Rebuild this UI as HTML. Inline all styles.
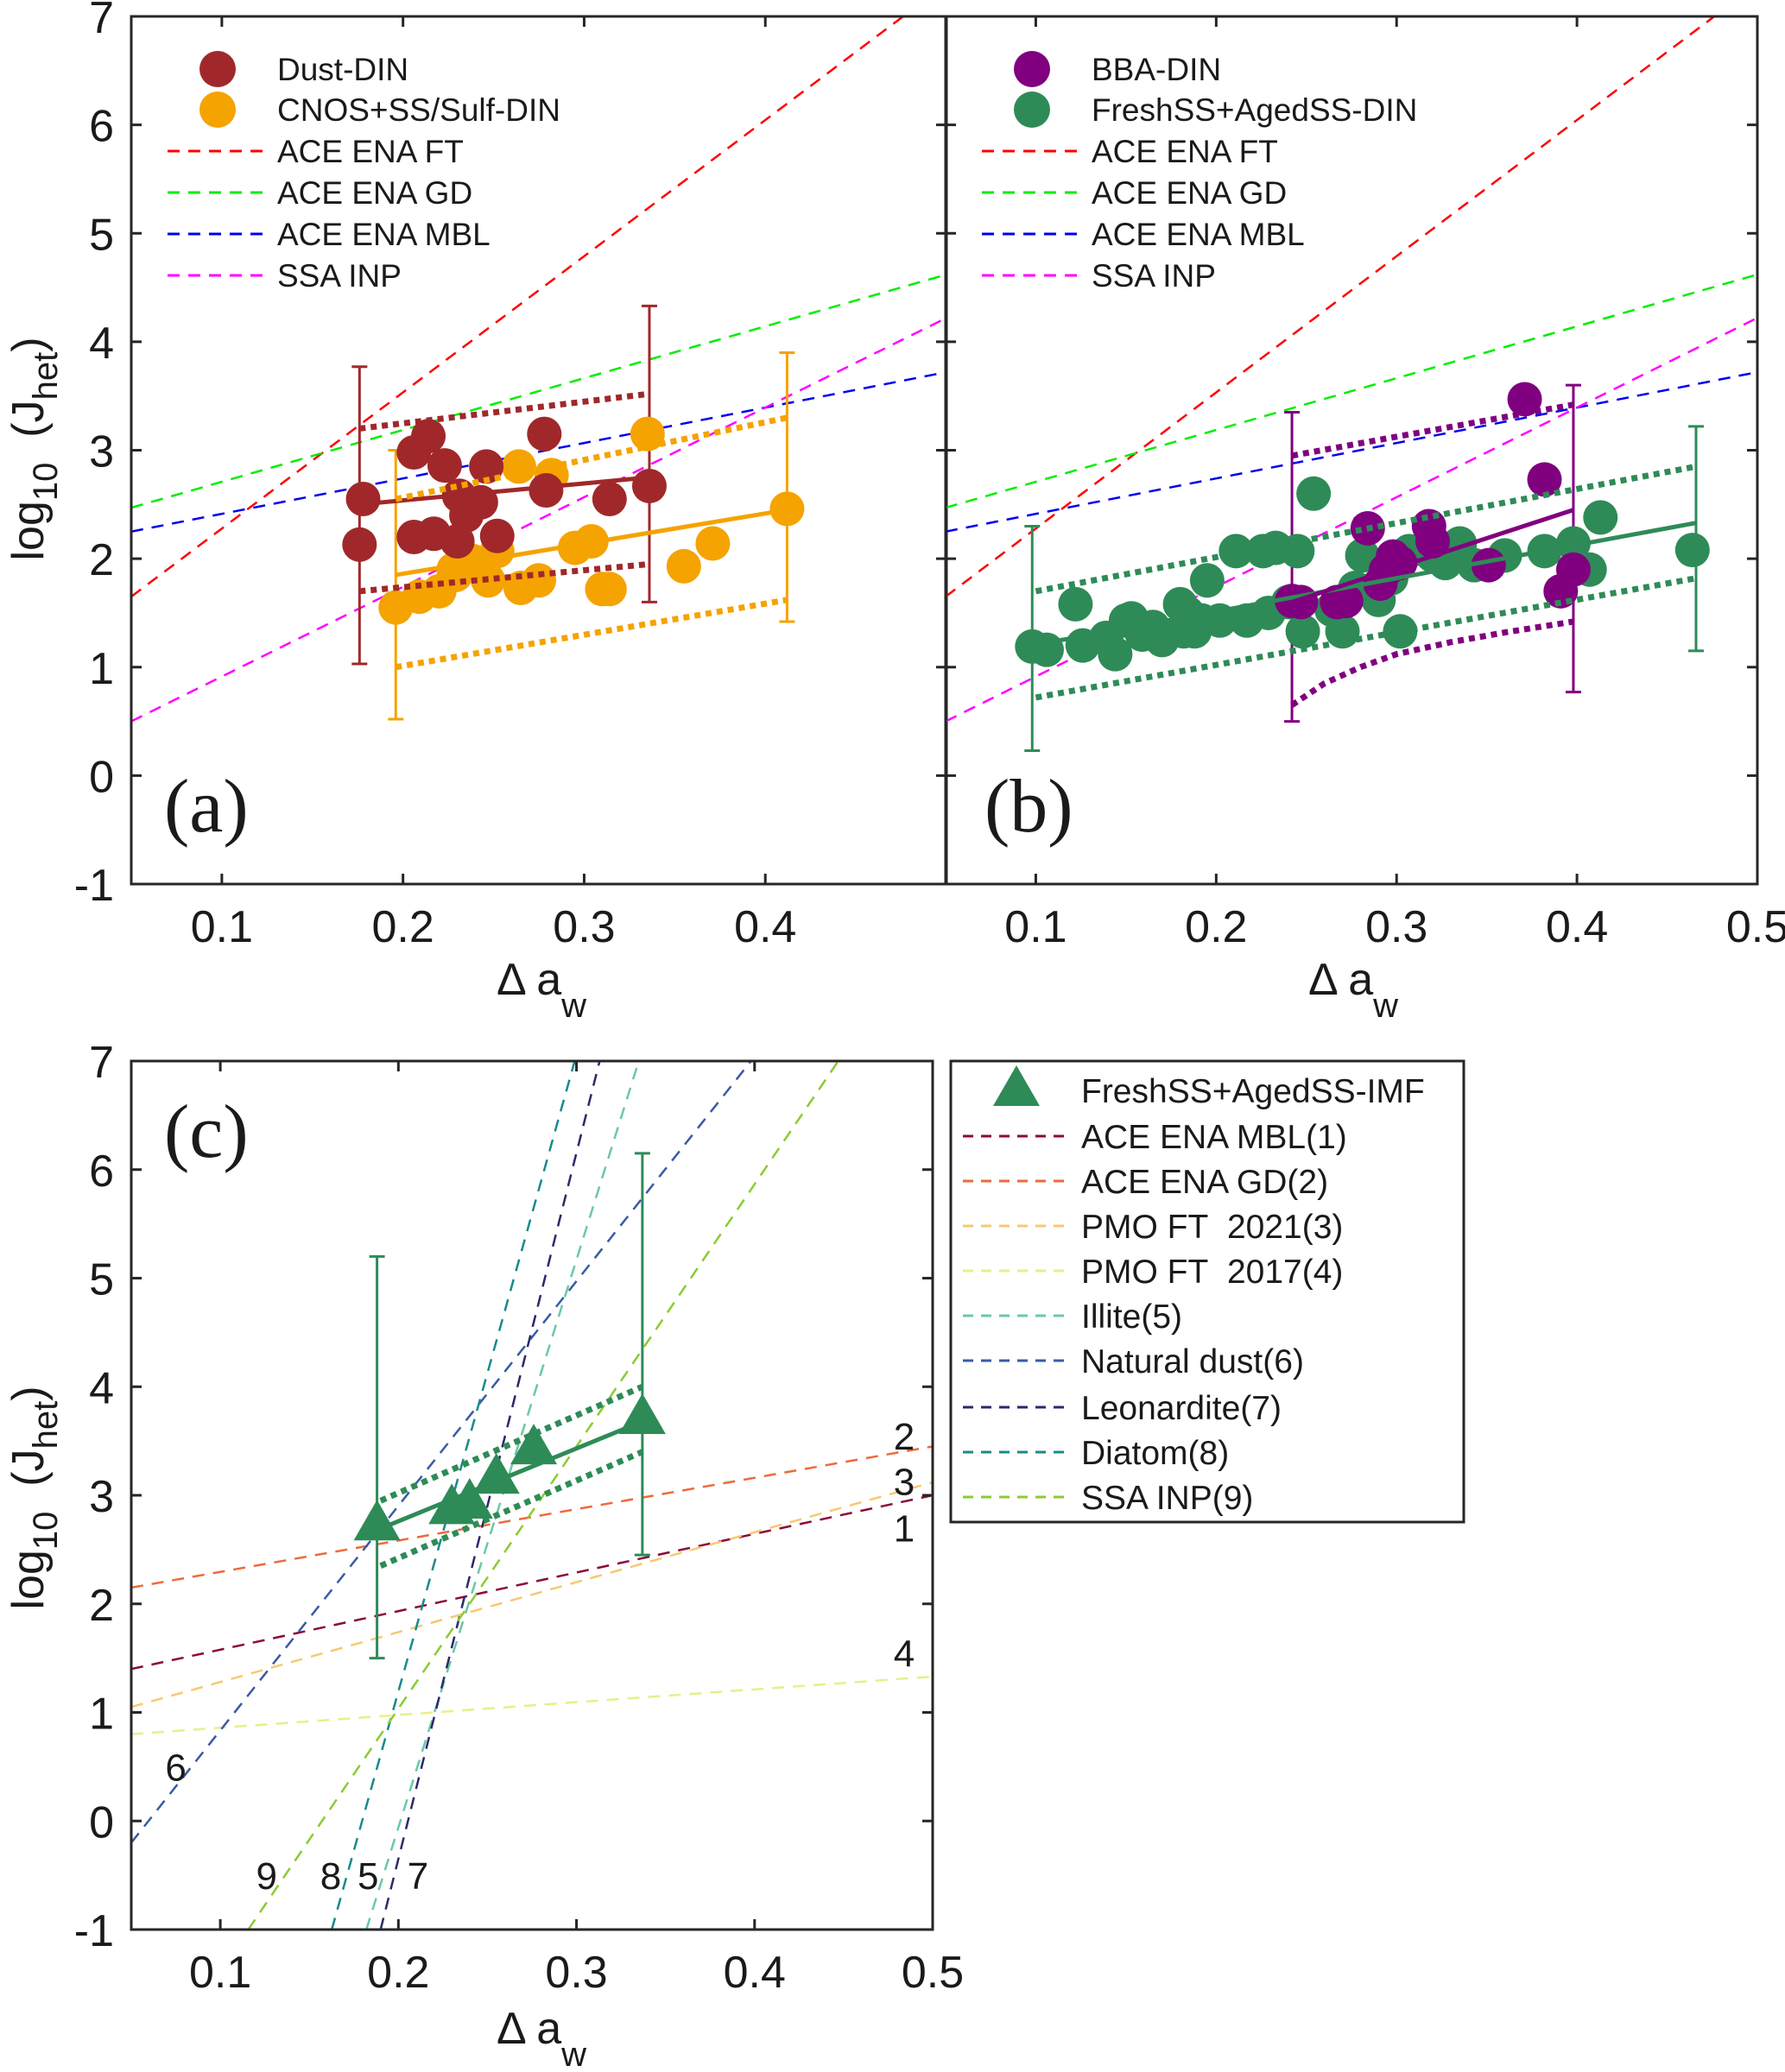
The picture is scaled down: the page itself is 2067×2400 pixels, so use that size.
<!DOCTYPE html>
<html><head><meta charset="utf-8"><style>
html,body{margin:0;padding:0;background:#fff;}
svg text{font-family:"Liberation Sans",Arial,Helvetica,sans-serif;fill:#1a1a1a;}
</style></head><body>
<svg id="fig" xmlns="http://www.w3.org/2000/svg" width="2067" height="2395" viewBox="0 0 2067 2395" font-family="Liberation Sans, Arial, sans-serif"></svg>
<script>
// ---------- data ----------
const yTicks = [-1,0,1,2,3,4,5,6,7];
const xTicksAB = [0.1,0.2,0.3,0.4];
const xTicksB = [0.1,0.2,0.3,0.4,0.5];
const xTicksC = [0.1,0.2,0.3,0.4,0.5];
const refNames = ["ACE ENA FT","ACE ENA GD","ACE ENA MBL","SSA INP"];
const refColors = ["#ff0000","#00ee00","#0000ee","#ff00ff"];
const refStart = [1.65,2.47,2.25,0.5];
const refEnd = [7.3,4.62,3.72,4.22];
// Panel a
const dustX = [0.176,0.178,0.206,0.214,0.223,0.206,0.217,0.230,0.231,0.235,0.243,0.246,0.252,0.278,0.279,0.314,0.336];
const dustY = [2.13,2.55,2.98,3.13,2.86,2.20,2.23,2.16,2.58,2.40,2.52,2.85,2.21,3.15,2.63,2.55,2.67];
const cnosX = [0.196,0.209,0.220,0.229,0.238,0.247,0.252,0.265,0.275,0.282,0.264,0.295,0.304,0.310,0.314,0.335,0.355,0.371,0.412,0.228];
const cnosY = [1.55,1.65,1.70,1.85,1.98,1.80,2.07,1.73,1.80,2.77,2.85,2.10,2.16,1.72,1.72,3.15,1.93,2.14,2.46,1.90];
const dustFit = [0.176,2.50,0.336,2.75], dustUp=[0.176,3.20,0.336,3.52], dustLo=[0.176,1.70,0.336,1.95];
const dustErrX=[0.176,0.336], dustErrLo=[1.03,1.60], dustErrHi=[3.77,4.33];
const cnosFit = [0.196,1.85,0.412,2.45], cnosUp=[0.196,2.55,0.412,3.30], cnosLo=[0.196,1.00,0.412,1.62];
const cnosErrX=[0.196,0.412], cnosErrLo=[0.52,1.42], cnosErrHi=[3.00,3.90];
// Panel b
const ssX = [0.098,0.106,0.122,0.126,0.139,0.144,0.150,0.153,0.159,0.165,0.170,0.180,0.182,0.184,0.188,0.192,0.195,0.202,0.211,0.217,0.226,0.229,0.233,0.240,0.245,0.248,0.254,0.264,0.270,0.277,0.281,0.290,0.297,0.302,0.307,0.320,0.327,0.335,0.343,0.360,0.382,0.398,0.407,0.413,0.464];
const ssY = [1.19,1.16,1.58,1.20,1.27,1.12,1.43,1.45,1.30,1.37,1.25,1.58,1.33,1.50,1.33,1.43,1.80,1.43,2.07,1.43,2.07,1.50,2.10,1.60,2.07,1.33,2.60,1.53,1.33,1.73,2.03,1.62,1.82,1.33,2.07,2.03,1.96,2.14,1.94,2.03,2.07,2.14,1.90,2.38,2.08];
const bbaX = [0.242,0.247,0.267,0.272,0.284,0.291,0.294,0.298,0.302,0.318,0.320,0.351,0.371,0.382,0.391,0.398];
const bbaY = [1.61,1.60,1.60,1.61,2.28,1.77,1.89,2.02,1.96,2.30,2.16,1.94,3.47,2.73,1.70,1.90];
const ssFit=[0.098,1.20,0.466,2.33], ssUp=[0.100,1.70,0.466,2.85], ssLo=[0.100,0.72,0.466,1.82];
const ssErrX=[0.098,0.466], ssErrLo=[0.23,1.15], ssErrHi=[2.30,3.22];
const bbaFit=[0.242,1.60,0.398,2.45], bbaUp=[0.242,2.95,0.398,3.42];
const bbaLoX=[0.242,0.26,0.28,0.30,0.33,0.36,0.398], bbaLoY=[0.65,0.85,1.0,1.12,1.23,1.32,1.42];
const bbaErrX=[0.242,0.398], bbaErrLo=[0.50,0.77], bbaErrHi=[3.35,3.60];
// Panel c
const imfX=[0.188,0.230,0.240,0.255,0.276,0.337];
const imfY=[2.72,2.87,2.92,3.15,3.42,3.70];
const imfFit=[0.188,2.68,0.337,3.68], imfUp=[0.190,2.95,0.337,4.00], imfLo=[0.190,2.35,0.337,3.40];
const imfErrX=[0.188,0.337], imfErrLo=[1.50,2.45], imfErrHi=[5.20,6.15];
const cNames=["ACE ENA MBL(1)","ACE ENA GD(2)","PMO FT\u00a0\u00a02021(3)","PMO FT\u00a0\u00a02017(4)","Illite(5)","Natural dust(6)","Leonardite(7)","Diatom(8)","SSA INP(9)"];
const cColors=["#8b0a3a","#ee6a3a","#f8c870","#e6f08a","#6ac8a8","#3a5aa8","#2a2a6a","#1a8a8a","#8acc30"];
const cLines=[[0.05,1.40,0.5,3.00],[0.05,2.15,0.5,3.45],[0.05,1.05,0.5,3.12],[0.05,0.80,0.5,1.33],
 [0.182,-1,0.335,7],[0.05,-0.2,0.398,7],[0.190,-1,0.313,7],[0.1626,-1,0.299,7],[0.1157,-1,0.447,7]];
const cLabelTxt=["1","2","3","4","5","6","7","8","9"];
const cLabelX=[0.484,0.484,0.484,0.484,0.183,0.075,0.211,0.162,0.126];
const cLabelY=[2.7,3.55,3.13,1.55,-0.5,0.5,-0.5,-0.5,-0.5];

// ---------- drawing ----------
const NS="http://www.w3.org/2000/svg";
const svg=document.getElementById('fig');
function el(tag,attrs,parent){const e=document.createElementNS(NS,tag);for(const k in attrs)e.setAttribute(k,attrs[k]);(parent||svg).appendChild(e);return e;}
function mkAxis(L,R,T,B){return {L,R,T,B,x:v=>L+(v-0.05)/0.45*(R-L),y:v=>B-(v+1)/8*(B-T)};}
const A=mkAxis(152,1096,19,1024), Bx=mkAxis(1095,2035,19,1024), C=mkAxis(152,1080,1229,2235);

function seg(ax,g,a,color,w,dash,name){
  const l=el('line',{x1:ax.x(a[0]),y1:ax.y(a[1]),x2:ax.x(a[2]),y2:ax.y(a[3]),stroke:color,'stroke-width':w,'stroke-dasharray':dash||'none'},g);
  
  
}
function err(ax,g,xs,lo,hi,color,name){
  for(let i=0;i<xs.length;i++){
    const x=ax.x(xs[i]);
    const p=el('path',{d:`M${x},${ax.y(lo[i])}V${ax.y(hi[i])}M${x-9},${ax.y(lo[i])}h18M${x-9},${ax.y(hi[i])}h18`,stroke:color,'stroke-width':3,fill:'none'},g);
    
    
  }
}
function dots(ax,g,xs,ys,color,name){
  for(let i=0;i<xs.length;i++){
    const c=el('circle',{cx:ax.x(xs[i]),cy:ax.y(ys[i]),r:20,fill:color},g);
    
    
  }
}
function frame(ax,xt,name,labels){
  const g=el('g',{});
  
  
  el('rect',{x:ax.L,y:ax.T,width:ax.R-ax.L,height:ax.B-ax.T,fill:'none',stroke:'#262626','stroke-width':3},g);
  xt.forEach(v=>{const x=ax.x(v);
    el('path',{d:`M${x},${ax.B}v-12M${x},${ax.T}v12`,stroke:'#262626','stroke-width':3},g);
    const t=el('text',{x:x,y:ax.B+67,'font-size':52,'text-anchor':'middle'},g);t.textContent=String(v);
    
    
  });
  yTicks.forEach(v=>{const y=ax.y(v);
    el('path',{d:`M${ax.L},${y}h12M${ax.R},${y}h-12`,stroke:'#262626','stroke-width':3},g);
    if(labels){const t=el('text',{x:ax.L-20,y:y+19,'font-size':52,'text-anchor':'end'},g);t.textContent=String(v);
      
      }
  });
}
function xTitle(cx,by,name){
  const t=el('text',{x:cx,y:by,'font-size':52,'text-anchor':'middle'});
  t.innerHTML='Δ a<tspan dy="26" font-size="40">w</tspan>';
  
  
}
function yTitle(cy,name){
  const t=el('text',{x:0,y:0,'font-size':52,'text-anchor':'middle',transform:`translate(50,${cy}) rotate(-90)`});
  t.innerHTML='log<tspan dy="16" font-size="40">10</tspan><tspan dy="-16">\u00a0\u00a0(J</tspan><tspan dy="16" font-size="40">het</tspan><tspan dy="-16">)</tspan>';
  
  
}
function panelLabel(x,y,s,name){
  const t=el('text',{x:x,y:y,'font-size':88,style:'font-family:"Liberation Serif",serif'});t.textContent=s;
  
  
}
function refLines(ax,g){
  for(let i=0;i<refNames.length;i++) seg(ax,g,[0.05,refStart[i],0.5,refEnd[i]],refColors[i],2.5,'14,10','ref-line-'+refNames[i].toLowerCase().replace(/ /g,'-'));
}
function legendAB(ox,names,cols){
  const g=el('g',{});
  
  
  const rows=[80,127,175,223,271,319];
  for(let i=0;i<2;i++){
    el('ellipse',{cx:ox+100,cy:rows[i],rx:21,ry:21,fill:cols[i]},g);
    const t=el('text',{x:ox+169,y:rows[i]+13,'font-size':37},g);t.textContent=names[i];
    
    
  }
  for(let i=0;i<4;i++){
    el('line',{x1:ox+42,y1:rows[i+2],x2:ox+159,y2:rows[i+2],stroke:refColors[i],'stroke-width':3,'stroke-dasharray':'14,10'},g);
    const t=el('text',{x:ox+169,y:rows[i+2]+13,'font-size':37},g);t.textContent=refNames[i];
    
    
  }
}

const defs=el('defs',{});
['ca','cb','cc'].forEach((id,i)=>{const ax=[A,Bx,C][i];const cp=el('clipPath',{id:id},defs);el('rect',{x:ax.L,y:ax.T,width:ax.R-ax.L,height:ax.B-ax.T},cp);});

// ---- Panel a ----
let g=el('g',{'clip-path':'url(#ca)'});


refLines(A,g);
err(A,g,dustErrX,dustErrLo,dustErrHi,'#a0282a','dust-error-bar');
err(A,g,cnosErrX,cnosErrLo,cnosErrHi,'#f5a300','cnos-error-bar');
dots(A,g,cnosX,cnosY,'#f5a300','cnos-point');
dots(A,g,dustX,dustY,'#a0282a','dust-point');
seg(A,g,dustFit,'#a0282a',5,null,'dust-fit-line');
seg(A,g,dustUp,'#a0282a',7,'7,6','dust-upper-bound');
seg(A,g,dustLo,'#a0282a',7,'7,6','dust-lower-bound');
seg(A,g,cnosFit,'#f5a300',5,null,'cnos-fit-line');
seg(A,g,cnosUp,'#f5a300',7,'7,6','cnos-upper-bound');
seg(A,g,cnosLo,'#f5a300',7,'7,6','cnos-lower-bound');
frame(A,xTicksAB,'panel-a',true);
legendAB(152,["Dust-DIN","CNOS+SS/Sulf-DIN"],["#a0282a","#f5a300"]);
panelLabel(190,963,'(a)','panel-a-label');
xTitle(627,1152,'x-axis-title-a');
yTitle(520,'y-axis-title-a');

// ---- Panel b ----
g=el('g',{'clip-path':'url(#cb)'});


refLines(Bx,g);
err(Bx,g,ssErrX,ssErrLo,ssErrHi,'#2e8b57','freshss-error-bar');
err(Bx,g,bbaErrX,bbaErrLo,bbaErrHi,'#800080','bba-error-bar');
dots(Bx,g,ssX,ssY,'#2e8b57','freshss-point');
dots(Bx,g,bbaX,bbaY,'#800080','bba-point');
seg(Bx,g,ssFit,'#2e8b57',5,null,'freshss-fit-line');
seg(Bx,g,ssUp,'#2e8b57',7,'7,6','freshss-upper-bound');
seg(Bx,g,ssLo,'#2e8b57',7,'7,6','freshss-lower-bound');
seg(Bx,g,bbaFit,'#800080',5,null,'bba-fit-line');
seg(Bx,g,bbaUp,'#800080',7,'7,6','bba-upper-bound');
{const pts=bbaLoX.map((x,i)=>Bx.x(x)+','+Bx.y(bbaLoY[i])).join(' ');
 const p=el('polyline',{points:pts,fill:'none',stroke:'#800080','stroke-width':7,'stroke-dasharray':'7,6'},g);
 
 }
frame(Bx,xTicksB,'panel-b',false);
legendAB(1095,["BBA-DIN","FreshSS+AgedSS-DIN"],["#800080","#2e8b57"]);
panelLabel(1140,963,'(b)','panel-b-label');
xTitle(1567,1152,'x-axis-title-b');

// ---- Panel c ----
g=el('g',{'clip-path':'url(#cc)'});


for(let i=0;i<cLines.length;i++) seg(C,g,cLines[i],cColors[i],2.5,'14,10','ref-line-'+(i+1));
err(C,g,imfErrX,imfErrLo,imfErrHi,'#2e8b57','imf-error-bar');
seg(C,g,imfFit,'#2e8b57',5,null,'imf-fit-line');
seg(C,g,imfUp,'#2e8b57',7,'7,6','imf-upper-bound');
seg(C,g,imfLo,'#2e8b57',7,'7,6','imf-lower-bound');
for(let i=0;i<imfX.length;i++){
  const x=C.x(imfX[i]),y=C.y(imfY[i]);
  const p=el('polygon',{points:`${x},${y-30} ${x-27},${y+17} ${x+27},${y+17}`,fill:'#2e8b57'},g);
  
  
}
for(let i=0;i<cLabelTxt.length;i++){
  const t=el('text',{x:C.x(cLabelX[i]),y:C.y(cLabelY[i])+16,'font-size':44,'text-anchor':'middle'},g);
  t.textContent=cLabelTxt[i];
  
  
}
frame(C,xTicksC,'panel-c',true);
panelLabel(190,1340,'(c)','panel-c-label');
xTitle(627,2367,'x-axis-title-c');
yTitle(1735,'y-axis-title-c');
{const lg=el('g',{});
 
 
 el('rect',{x:1101,y:1229,width:594,height:534,fill:'#fff',stroke:'#262626','stroke-width':3},lg);
 const rows=[1263,1316,1368,1420,1472,1524,1576,1630,1682,1734];
 el('polygon',{points:`1177,1234 1150,1281 1204,1281`,fill:'#2e8b57'},lg);
 let t=el('text',{x:1252,y:rows[0]+14,'font-size':39},lg);t.textContent='FreshSS+AgedSS-IMF';
 
 
 for(let i=0;i<cNames.length;i++){
   el('line',{x1:1115,y1:rows[i+1],x2:1238,y2:rows[i+1],stroke:cColors[i],'stroke-width':3,'stroke-dasharray':'12,9'},lg);
   t=el('text',{x:1252,y:rows[i+1]+14,'font-size':39},lg);t.textContent=cNames[i];
   
   
 }}
</script>
</body></html>
